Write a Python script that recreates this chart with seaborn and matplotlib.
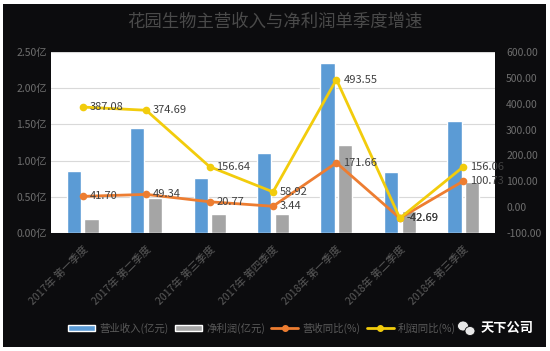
import pandas as pd
import matplotlib
matplotlib.use('agg')
import seaborn as sns
import matplotlib.pyplot as plt
from matplotlib.patches import Patch, Rectangle, Ellipse
from matplotlib.lines import Line2D

TITLE = "花园生物主营收入与净利润单季度增速"

QUARTERS = ["2017年 第一季度", "2017年 第二季度", "2017年 第三季度", "2017年 第四季度",
			"2018年 第一季度", "2018年 第二季度", "2018年 第三季度"]

REVENUE = [0.85, 1.45, 0.76, 1.10, 2.35, 0.84, 1.55]      # 营业收入(亿元)
PROFIT = [0.19, 0.49, 0.26, 0.26, 1.21, 0.30, 0.70]       # 净利润(亿元)
REV_YOY = [41.70, 49.34, 20.77, 3.44, 171.66, -42.69, 100.73]    # 营收同比(%)
PROFIT_YOY = [387.08, 374.69, 156.64, 58.92, 493.55, -42.69, 156.06]  # 利润同比(%)

LEFT_TICKS = [0, 0.5, 1.0, 1.5, 2.0, 2.5]
RIGHT_TICKS = [-100, 0, 100, 200, 300, 400, 500, 600]

SERIES = ["营业收入(亿元)", "净利润(亿元)", "营收同比(%)", "利润同比(%)"]

BLUE = "#5B9BD5"
GRAY = "#A5A5A5"
ORANGE = "#ED7D31"
YELLOW = "#F2CC0C"
TICK_COLOR = "#6e6e6e"
LABEL_COLOR = "#404040"


def main(output):
	sns.set_style("white")
	plt.rcParams['font.family'] = ['Noto Sans CJK SC', 'DejaVu Sans']
	plt.rcParams['axes.unicode_minus'] = False

	fig = plt.figure(figsize=(5.5, 3.51), dpi=100)
	fig.patch.set_facecolor("white")
	fig.patches.append(Rectangle((3/550, 4/351), 543/550, 343/351, transform=fig.transFigure,
								 facecolor="#0c0c0e", edgecolor="none", zorder=-10))

	ax1 = fig.add_axes([51/550, 1-233/351, 444/550, 181/351])
	ax1.set_facecolor("white")

	bars = pd.DataFrame({
		"quarter": QUARTERS * 2,
		"value": REVENUE + PROFIT,
		"series": [SERIES[0]] * len(QUARTERS) + [SERIES[1]] * len(QUARTERS),
	})
	sns.barplot(data=bars, x="quarter", y="value", hue="series", ax=ax1,
				palette=[BLUE, GRAY], width=0.56, gap=0.2, saturation=1, legend=False)

	ax1.set_ylim(0, 2.5)
	ax1.set_yticks(LEFT_TICKS)
	ax1.set_yticklabels(["%.2f亿" % v for v in LEFT_TICKS], color=TICK_COLOR, fontsize=7.5)
	ax1.yaxis.grid(True, color="#d9d9d9", linewidth=0.8)
	ax1.set_axisbelow(True)
	ax1.set(xlabel="", ylabel="")
	for s in ax1.spines.values():
		s.set_visible(False)

	ax2 = ax1.twinx()
	sns.pointplot(x=QUARTERS, y=REV_YOY, ax=ax2, color=ORANGE, markers="o",
				  markersize=4, linewidth=2)
	sns.pointplot(x=QUARTERS, y=PROFIT_YOY, ax=ax2, color=YELLOW, markers="o",
				  markersize=4, linewidth=2)
	ax2.set_ylim(-100, 600)
	ax2.set_yticks(RIGHT_TICKS)
	ax2.set_yticklabels(["%.2f" % v for v in RIGHT_TICKS], color=TICK_COLOR, fontsize=7.5)
	ax2.set(xlabel="", ylabel="")
	ax2.grid(False)
	for s in ax2.spines.values():
		s.set_visible(False)

	for vals in (REV_YOY, PROFIT_YOY):
		for i, v in enumerate(vals):
			ax2.annotate("%.2f" % v, (i, v), xytext=(5, 0), textcoords="offset points",
						 ha="left", va="center", fontsize=8, color=LABEL_COLOR, zorder=5)

	# category labels
	ax1.set_xticks(range(len(QUARTERS)))
	ax1.set_xticklabels(QUARTERS, rotation=45, ha="right", rotation_mode="anchor",
						color="#5a5a5a", fontsize=7.6)
	ax1.tick_params(axis="x", pad=8, length=0)
	ax1.tick_params(axis="y", length=0, pad=3)
	ax2.tick_params(axis="y", length=0, pad=8)

	fig.text(0.5, 1-22/351, TITLE, ha="center", va="center", fontsize=12.5, color="#4a4a4a")

	handles = [
		Patch(facecolor=BLUE, label=SERIES[0]),
		Patch(facecolor=GRAY, label=SERIES[1]),
		Line2D([], [], color=ORANGE, marker="o", markersize=4, linewidth=2, label=SERIES[2]),
		Line2D([], [], color=YELLOW, marker="o", markersize=4, linewidth=2, label=SERIES[3]),
	]
	leg = fig.legend(handles=handles, loc="center", bbox_to_anchor=(262/550, 1-328/351), ncol=4,
					 frameon=False, fontsize=7.5, handlelength=2.6, handleheight=0.6,
					 columnspacing=0.6, handletextpad=0.4)
	for t in leg.get_texts():
		t.set_color("#5a5a5a")

	# watermark
	fig.patches.append(Ellipse((463/550, 1-326/351), 11/550, 10/351, transform=fig.transFigure,
							   facecolor="#e8e8e8", edgecolor="#0c0c0e", linewidth=0.6))
	fig.patches.append(Ellipse((470/550, 1-331/351), 10/550, 9/351, transform=fig.transFigure,
							   facecolor="#e8e8e8", edgecolor="#0c0c0e", linewidth=0.6))
	fig.text(481/550, 1-328/351, "天下公司", ha="left", va="center", fontsize=9.5,
			 color="white", fontweight="bold")

	fig.savefig(output, dpi=100)


if __name__ == "__main__":
	main("out.png")
